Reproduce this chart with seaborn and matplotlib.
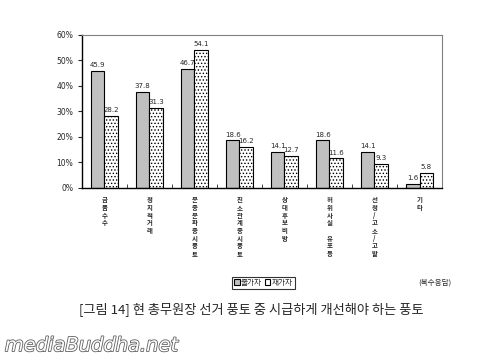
import numpy as np
import pandas as pd
import matplotlib
matplotlib.use("Agg")
import matplotlib.pyplot as plt
import matplotlib.patheffects as pe
import seaborn as sns

# Data
categories = ['금품수수', '정치적거래', '문중문파중시풍토', '친소관계중시풍토',
              '상대후보비방', '허위사실유포등', '선정/고소/고발', '기타']
tick_labels = ['금\n품\n수\n수',
               '정\n치\n적\n거\n래',
               '문\n중\n문\n파\n중\n시\n풍\n토',
               '친\n소\n관\n계\n중\n시\n풍\n토',
               '상\n대\n후\n보\n비\n방',
               '허\n위\n사\n실\n \n유\n포\n등',
               '선\n정\n/\n고\n소\n/\n고\n발',
               '기\n타']
groups = ['출가자', '재가자']
monks = [45.9, 37.8, 46.7, 18.6, 14.1, 18.6, 14.1, 1.6]
laity = [28.2, 31.3, 54.1, 16.2, 12.7, 11.6, 9.3, 5.8]
y_ticks = [0, 10, 20, 30, 40, 50, 60]

df = pd.DataFrame({
    'category': categories * 2,
    'group': [groups[0]] * len(categories) + [groups[1]] * len(categories),
    'value': monks + laity,
})

sns.set_style("white")
plt.rcParams['font.family'] = ['Noto Sans CJK KR', 'DejaVu Sans']
plt.rcParams['hatch.linewidth'] = 0.6

fig = plt.figure(figsize=(4.81, 3.6), dpi=100)
ax = fig.add_axes([0.170, 0.478, 0.749, 0.425])

sns.barplot(data=df, x='category', y='value', hue='group', order=categories,
            hue_order=groups, palette=['#c0c0c0', 'white'], edgecolor='black',
            linewidth=0.8, width=0.6, ax=ax)

for patch in ax.containers[1]:
    patch.set_hatch('.....')

for cont in ax.containers:
    ax.bar_label(cont, fmt='%.1f', fontsize=5.0, padding=2,
                 family='DejaVu Sans')

ax.set_ylim(0, 60)
ax.set_yticks(y_ticks)
ax.set_yticklabels([f'{t}%' for t in y_ticks], fontsize=5.5, family='DejaVu Sans')
ax.set_xlim(-0.5, len(categories) - 0.5)
ax.set_xticks([])
ax.tick_params(axis='y', length=3, width=0.8, direction='out', pad=3, left=True)
ax.set_xticks(np.arange(0.5, len(categories) - 0.5, 1), minor=True)
ax.tick_params(axis='x', which='minor', length=3, width=0.6, direction='in', bottom=True)
ax.set_xlabel('')
ax.set_ylabel('')

# vertical (stacked) category labels, one character per row
trans = ax.get_xaxis_transform()
for i, lab in enumerate(tick_labels):
    for j, ch in enumerate(lab.split('\n')):
        ax.text(i, -0.055 - j * 0.05, ch, transform=trans, fontsize=4.6,
                fontweight='bold', ha='center', va='top', clip_on=False)

for side in ['top', 'right']:
    ax.spines[side].set_color('#808080')
    ax.spines[side].set_linewidth(0.8)
for side in ['left', 'bottom']:
    ax.spines[side].set_color('black')
    ax.spines[side].set_linewidth(1.0)

handles, labels = ax.get_legend_handles_labels()
ax.legend_.remove()
leg = fig.legend(handles, labels, loc='center', bbox_to_anchor=(0.548, 0.215),
                 ncol=2, fontsize=5.5, frameon=True, fancybox=False,
                 handlelength=0.7, handleheight=0.7, handletextpad=0.2,
                 columnspacing=0.4, borderpad=0.25, borderaxespad=0)
leg.get_frame().set_edgecolor('black')
leg.get_frame().set_linewidth(0.8)

fig.text(0.905, 0.215, '(복수응답)', fontsize=5.5, ha='center', va='center')
fig.text(0.522, 0.138, '[그림 14] 현 총무원장 선거 풍토 중 시급하게 개선해야 하는 풍토',
         fontsize=9.5, ha='center', va='center')
fig.text(0.01, 0.04, 'mediaBuddha.net', fontsize=14, style='italic',
         family='DejaVu Sans', color='white', ha='left', va='center',
         path_effects=[pe.withStroke(linewidth=1.2, foreground='#606060')])

fig.savefig('out.png', dpi=100)
